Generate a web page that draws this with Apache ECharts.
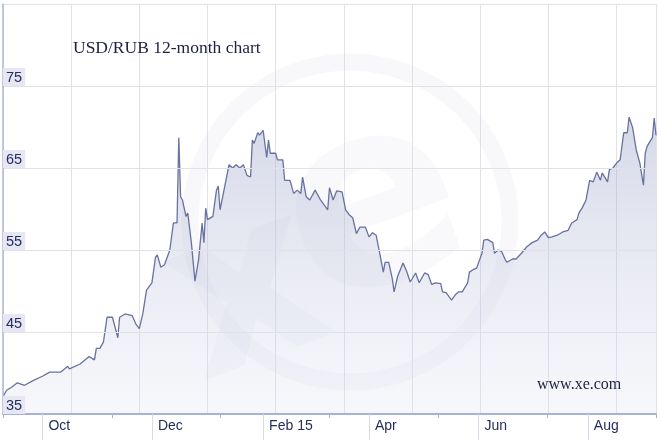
<!DOCTYPE html>
<html>
<head>
<meta charset="utf-8">
<script src="https://cdn.jsdelivr.net/npm/echarts@6/dist/echarts.min.js"></script>
<style>
html,body{margin:0;padding:0;background:#fff;}
#chart{width:660px;height:440px;}
</style>
</head>
<body>
<div id="chart"></div>
<script>
// ---- data ----
const titleText = 'USD/RUB 12-month chart';
const sourceText = 'www.xe.com';
const rangeStart = '2014-09-09';
const rangeEnd = '2015-09-08';
const monthStarts = ['2014-10-01','2014-12-01','2015-02-01','2015-04-01','2015-06-01','2015-08-01'];
const monthLabels = ['Oct','Dec','Feb 15','Apr','Jun','Aug'];
const yMin = 35, yMax = 85, yStep = 10;

const dates = [
'2014-09-09','2014-09-11','2014-09-14','2014-09-17','2014-09-21','2014-09-26','2014-10-01','2014-10-05','2014-10-11','2014-10-15',
'2014-10-16','2014-10-22','2014-10-27','2014-10-30','2014-10-31','2014-11-02','2014-11-04','2014-11-06','2014-11-09','2014-11-12',
'2014-11-13','2014-11-16','2014-11-20','2014-11-22','2014-11-24','2014-11-26','2014-11-28','2014-12-01','2014-12-03','2014-12-04',
'2014-12-06','2014-12-08','2014-12-11','2014-12-13','2014-12-15','2014-12-16','2014-12-17','2014-12-18','2014-12-20','2014-12-21',
'2014-12-23','2014-12-25','2014-12-27','2014-12-28','2014-12-29','2014-12-30','2014-12-31','2015-01-01','2015-01-04','2015-01-06',
'2015-01-07','2015-01-08','2015-01-10','2015-01-11','2015-01-13','2015-01-15','2015-01-17','2015-01-19','2015-01-21','2015-01-23',
'2015-01-25','2015-01-26','2015-01-27','2015-01-29','2015-01-30','2015-02-01','2015-02-03','2015-02-04','2015-02-05','2015-02-08',
'2015-02-09','2015-02-12','2015-02-13','2015-02-16','2015-02-18','2015-02-20','2015-02-22','2015-02-23','2015-02-25','2015-02-27',
'2015-03-02','2015-03-05','2015-03-09','2015-03-10','2015-03-12','2015-03-14','2015-03-17','2015-03-19','2015-03-21','2015-03-23',
'2015-03-25','2015-03-27','2015-03-30','2015-03-31','2015-04-01','2015-04-03','2015-04-05','2015-04-07','2015-04-09','2015-04-10',
'2015-04-12','2015-04-14','2015-04-15','2015-04-17','2015-04-20','2015-04-22','2015-04-24','2015-04-25','2015-04-27','2015-04-29',
'2015-05-02','2015-05-04','2015-05-06','2015-05-08','2015-05-11','2015-05-12','2015-05-14','2015-05-16','2015-05-17','2015-05-19',
'2015-05-21','2015-05-23','2015-05-26','2015-05-27','2015-05-29','2015-05-31','2015-06-01','2015-06-03','2015-06-04','2015-06-06',
'2015-06-09','2015-06-10','2015-06-12','2015-06-14','2015-06-16','2015-06-17','2015-06-20','2015-06-22','2015-06-25','2015-06-28',
'2015-07-01','2015-07-04','2015-07-06','2015-07-08','2015-07-10','2015-07-12','2015-07-15','2015-07-18','2015-07-21','2015-07-23',
'2015-07-26','2015-07-27','2015-07-29','2015-07-31','2015-08-02','2015-08-04','2015-08-06','2015-08-08','2015-08-09','2015-08-12',
'2015-08-13','2015-08-15','2015-08-17','2015-08-19','2015-08-21','2015-08-23','2015-08-24','2015-08-26','2015-08-27','2015-08-28',
'2015-08-30','2015-09-01','2015-09-02','2015-09-03','2015-09-04','2015-09-06','2015-09-07','2015-09-08'
];
const rates = [
37.1,37.9,38.3,38.8,38.5,39.1,39.6,40.1,40.1,40.8,
40.5,41.1,42.0,41.6,43.0,43.0,43.8,46.8,46.8,44.3,
46.8,47.2,47.0,46.0,45.4,47.3,50.1,51.0,54.1,54.4,
52.9,53.2,55.0,58.3,58.3,68.7,61.5,61.1,59.1,59.5,
55.9,51.2,53.8,54.0,58.3,55.9,60.1,58.7,59.1,62.3,
62.8,59.9,62.1,61.9,65.4,65.0,65.4,65.0,65.4,64.1,
63.9,68.4,68.0,69.3,69.0,69.6,66.3,68.4,66.8,66.8,
66.0,66.0,63.5,63.5,61.9,62.3,61.9,63.9,61.5,61.1,
62.3,61.1,59.9,62.6,61.1,62.2,62.1,59.9,59.3,58.9,
57.0,57.8,57.8,57.9,56.6,57.1,56.8,54.6,52.3,53.5,
53.5,51.5,49.9,51.8,53.4,52.4,51.1,51.0,52.2,51.0,
52.2,52.0,50.8,51.0,50.9,49.9,49.8,49.2,48.9,49.5,
49.9,49.9,51.0,52.3,52.6,52.8,53.4,54.6,56.2,56.3,
55.9,54.6,55.0,54.8,53.8,53.5,53.9,53.9,54.6,55.4,
55.9,56.2,56.8,57.2,56.5,56.6,56.8,57.2,57.4,58.3,
58.7,59.5,60.2,61.1,63.5,63.3,64.5,63.5,64.4,63.3,
64.8,65.0,65.6,66.0,69.3,69.3,71.2,69.9,70.0,67.2,
65.6,62.9,66.8,67.6,68.0,68.7,71.1,69.0
];

// ---- chart ----
function dayIndex(s){
  const p=s.split('-'), q=rangeStart.split('-');
  return Math.round((Date.UTC(+p[0],+p[1]-1,+p[2]) - Date.UTC(+q[0],+q[1]-1,+q[2]))/86400000);
}
const totalDays = dayIndex(rangeEnd);
const monthPos = monthStarts.map(dayIndex);
const seriesData = dates.map((d,i)=>[dayIndex(d), rates[i]]);

const chart = echarts.init(document.getElementById('chart'), null, {renderer:'canvas'});
const navy = '#262d5e';
chart.setOption({
  animation:false,
  backgroundColor:'#ffffff',
  title:[
    {text:titleText, left:73, top:39, padding:0,
     textStyle:{fontFamily:'Liberation Serif', fontSize:17.5, fontWeight:'normal', color:'#1c2140'}},
    {text:sourceText, left:537, top:377, padding:0,
     textStyle:{fontFamily:'Liberation Serif', fontSize:16, fontWeight:'normal', color:'#1c2140'}}
  ],
  graphic:[
    {type:'circle', z:1, silent:true, shape:{cx:350, cy:222, r:160},
     style:{fill:'none', stroke:'rgba(210,213,230,0.16)', lineWidth:17}},
    {type:'text', z:1, silent:true, x:375, y:215, rotation:0.35,
     style:{text:'e', fontSize:260, fontWeight:'bold', fontFamily:'DejaVu Sans', fill:'rgba(210,213,230,0.14)',
            align:'center', verticalAlign:'middle'}},
    {type:'text', z:1, silent:true, x:250, y:300, rotation:0.35,
     style:{text:'x', fontSize:230, fontWeight:'bold', fontFamily:'DejaVu Sans', fill:'rgba(190,195,220,0.10)',
            align:'center', verticalAlign:'middle'}}
  ],
  grid:{left:3, right:4, top:4, bottom:26, containLabel:false},
  xAxis:[
    {type:'value', min:0, max:totalDays, position:'bottom', z:3,
     axisLine:{show:true, lineStyle:{color:'#aab1d6', width:2}},
     axisTick:{show:true, customValues:monthPos, length:26, lineStyle:{color:'#d8dae5', width:1}},
     axisLabel:{show:true, customValues:monthPos, align:'left', margin:5, padding:[0,0,0,6],
       color:navy, fontFamily:'Liberation Sans', fontSize:14,
       formatter:function(v){const k=monthPos.indexOf(Math.round(v));return k>=0?monthLabels[k]:'';}},
     splitLine:{show:false}},
    {type:'value', min:0, max:totalDays, interval:38, position:'bottom',
     axisLine:{show:false}, axisTick:{show:false}, axisLabel:{show:false},
     splitLine:{show:true, lineStyle:{color:'#e1e1e8', width:1}}},
    {type:'value', min:0, max:6, interval:1, position:'bottom', z:3,
     axisLine:{show:false}, axisTick:{show:true, length:4, lineStyle:{color:'#aab1d6'}},
     axisLabel:{show:false}, splitLine:{show:false}}
  ],
  yAxis:{type:'value', min:yMin, max:yMax, interval:yStep,
    axisLine:{show:true, lineStyle:{color:'#b0b6da', width:1.5}},
    axisTick:{show:false},
    splitLine:{show:true, lineStyle:{color:'#e1e1e8', width:1}},
    axisLabel:{inside:true, margin:0, verticalAlign:'bottom', showMaxLabel:false,
      color:navy, fontFamily:'Liberation Sans', fontSize:14.5,
      backgroundColor:'#e6e7f2', padding:[2,3,1,3],
      formatter:function(v){return v>=yMax?'':String(v);}},
    z:3},
  series:[{
    type:'line', xAxisIndex:0, data:seriesData, showSymbol:false, z:2,
    lineStyle:{color:'#67729f', width:1.3},
    areaStyle:{color:new echarts.graphic.LinearGradient(0,0,0,1,[
      {offset:0, color:'rgba(155,162,200,0.6)'},
      {offset:1, color:'rgba(222,224,238,0.35)'}])}
  }]
});
</script>
</body>
</html>
